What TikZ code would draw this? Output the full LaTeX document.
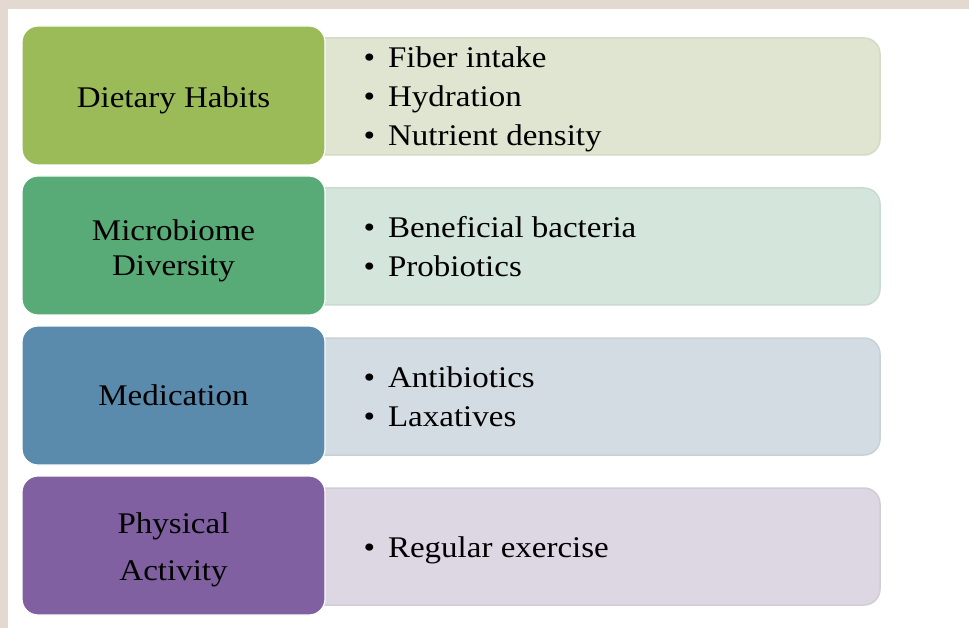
\documentclass[tikz,border=0pt]{standalone}
\usepackage{fontspec}
\setmainfont[FakeStretch=1.1]{Liberation Serif}
\usetikzlibrary{positioning}

\definecolor{framebg}{RGB}{228,217,209}
\definecolor{dietclr}{RGB}{155,187,89}
\definecolor{dietlt}{RGB}{223,229,208}
\definecolor{microclr}{RGB}{88,171,119}
\definecolor{microlt}{RGB}{212,230,220}
\definecolor{medclr}{RGB}{90,139,173}
\definecolor{medlt}{RGB}{211,220,227}
\definecolor{physclr}{RGB}{128,96,160}
\definecolor{physlt}{RGB}{221,214,227}

\newcommand{\itm}{\textbullet\hspace{13pt}}

\begin{document}
\begin{tikzpicture}[x=1pt, y=-1pt,
  cat/.style={draw=white, line width=1.2pt, rounded corners=16pt,
              minimum width=303pt, minimum height=139pt},
  cattxt/.style={align=center, font=\fontsize{30}{35}\selectfont},
  pane/.style={rounded corners=16pt, minimum width=575pt, minimum height=117pt,
               line width=1.5pt},
  lst/.style={anchor=west, align=left, font=\fontsize{30}{39}\selectfont},
]
% outer frame
\fill[framebg] (0,0) rectangle (969,628);
\fill[white] (8,9) rectangle (969,628);
\useasboundingbox (0,0) rectangle (969,628);
% detail panes (behind)
\node[pane, fill=dietlt, draw=dietlt!95!black]   (dietpane)  at (592.5, 96.5)  {};
\node[pane, fill=microlt, draw=microlt!95!black] (micropane) at (592.5, 246.5) {};
\node[pane, fill=medlt, draw=medlt!95!black]     (medpane)   at (592.5, 396.5) {};
\node[pane, fill=physlt, draw=physlt!95!black]   (physpane)  at (592.5, 546.5) {};
% category boxes
\node[cat, fill=dietclr,
      label={[cattxt, yshift=-5pt]center:Dietary Habits}] (diet) at (173.5, 95.5) {};
\node[cat, fill=microclr,
      label={[cattxt, yshift=-5pt]center:{Microbiome\\Diversity}}] (micro) at (173.5, 245.5) {};
\node[cat, fill=medclr,
      label={[cattxt]center:Medication}] (med) at (173.5, 395.5) {};
\node[cat, fill=physclr,
      label={[cattxt, yshift=-4pt]center:{Physical\\[12pt]Activity}}] (phys) at (173.5, 545.5) {};
% bullet lists
\node[lst] (dietlst)  at (360, 99.5)  {\itm Fiber intake\\\itm Hydration\\\itm Nutrient density};
\node[lst] (microlst) at (360, 246.5) {\itm Beneficial bacteria\\\itm Probiotics};
\node[lst] (medlst)   at (360, 396.5) {\itm Antibiotics\\\itm Laxatives};
\node[lst] (physlst)  at (360, 550.5) {\itm Regular exercise};
\end{tikzpicture}
\end{document}
